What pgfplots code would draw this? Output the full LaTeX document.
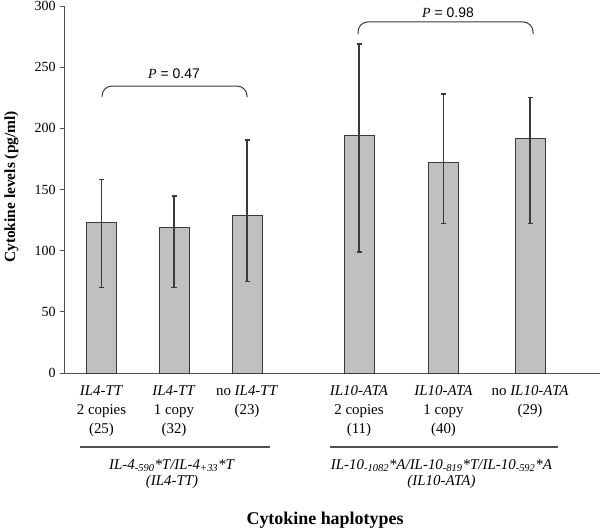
\documentclass[border=0pt]{standalone}
\usepackage{pgfplots}
\pgfplotsset{compat=1.18}
\usepackage{fontspec}
\setmainfont{Liberation Serif}
\newfontfamily\sansf{Liberation Sans}
\definecolor{barfill}{HTML}{C0C0C0}
\definecolor{barline}{HTML}{3A3A3A}
\definecolor{axline}{HTML}{505050}
\begin{document}
\begin{tikzpicture}
\useasboundingbox (-64bp,-157bp) rectangle (536bp,373bp);
\begin{axis}[
  at={(0,0)}, anchor=south west,
  scale only axis,
  width=536bp, height=367bp,
  xmin=64, xmax=600, ymin=0, ymax=300,
  axis x line*=bottom, axis y line*=left,
  axis line style={axline, line width=1pt},
  ytick={0,50,...,300},
  ytick style={axline, line width=0.8pt},
  tick align=outside,
  major tick length=4bp,
  /pgf/number format/assume math mode=true,
  yticklabel style={font=\rmfamily\fontsize{14}{16}\selectfont, xshift=-1bp},
  xtick={101.5,174,247,359,443.5,530},
  xtick style={draw=none},
  xticklabels={
    {\textit{IL4-TT}\\2 copies\\(25)},
    {\textit{IL4-TT}\\1 copy\\(32)},
    {no \textit{IL4-TT}\\(23)},
    {\textit{IL10-ATA}\\2 copies\\(11)},
    {\textit{IL10-ATA}\\1 copy\\(40)},
    {no \textit{IL10-ATA}\\(29)}},
  xticklabel style={align=center, font=\fontsize{15}{19}\selectfont, anchor=north, yshift=-5bp},
  ylabel={Cytokine levels (pg/ml)},
  ylabel style={at={(axis description cs:-0.098,0.507)}, anchor=center, rotate=0, font=\fontsize{15.5}{18}\selectfont\bfseries},
  xlabel={Cytokine haplotypes},
  xlabel style={at={(axis description cs:0.487,-0.4005)}, anchor=center, font=\fontsize{18}{20}\selectfont\bfseries},
  clip=false,
]
\addplot[ybar, bar width=30, fill=barfill, draw=barline, line width=1pt,
  error bars/.cd, y dir=both, y explicit,
  error bar style={line width=1.3pt, color=barline},
  error mark options={rotate=90, mark size=2.5bp, line width=1.3pt, color=barline}]
coordinates {
  (101.5,123.1) += (0,35.2) -= (0,53.1)
  (174,119.3) += (0,25.4) -= (0,49.3)
  (247,128.9) += (0,61.6) -= (0,53.9)
  (359,194.0) += (0,75.0) -= (0,95.1)
  (443.5,172.0) += (0,56.0) -= (0,49.6)
  (530,192.0) += (0,33.0) -= (0,69.6)
};
% brackets
\draw[barline, line width=1pt, rounded corners=10bp]
  (axis cs:102,225.6) -- (axis cs:102,234.6) -- (axis cs:247,234.6) -- (axis cs:247,225.6);
\draw[barline, line width=1pt, rounded corners=10bp]
  (axis cs:358,277) -- (axis cs:358,287) -- (axis cs:533,287) -- (axis cs:533,277);
\node[font=\fontsize{14}{16}\selectfont] at (axis cs:174,244.4) {\textit{P}\sansf{} = 0.47};
\node[font=\fontsize{14}{16}\selectfont] at (axis cs:448,294.8) {\textit{P}\sansf{} = 0.98};
% group lines
\draw[axline, line width=1.3pt] (axis cs:80,-60.5) -- (axis cs:270,-60.5);
\draw[axline, line width=1.3pt] (axis cs:330,-60.5) -- (axis cs:558,-60.5);
\node[font=\fontsize{15}{16}\selectfont, align=center] at (axis cs:172,-82.5)
  {\textit{IL-4\textsubscript{-590}*T/IL-4\textsubscript{+33}*T}\\\textit{(IL4-TT)}};
\node[font=\fontsize{15}{16}\selectfont, align=center] at (axis cs:441.5,-82.5)
  {\textit{IL-10\textsubscript{-1082}*A/IL-10\textsubscript{-819}*T/IL-10\textsubscript{-592}*A}\\\textit{(IL10-ATA)}};
\end{axis}
\end{tikzpicture}
\end{document}
